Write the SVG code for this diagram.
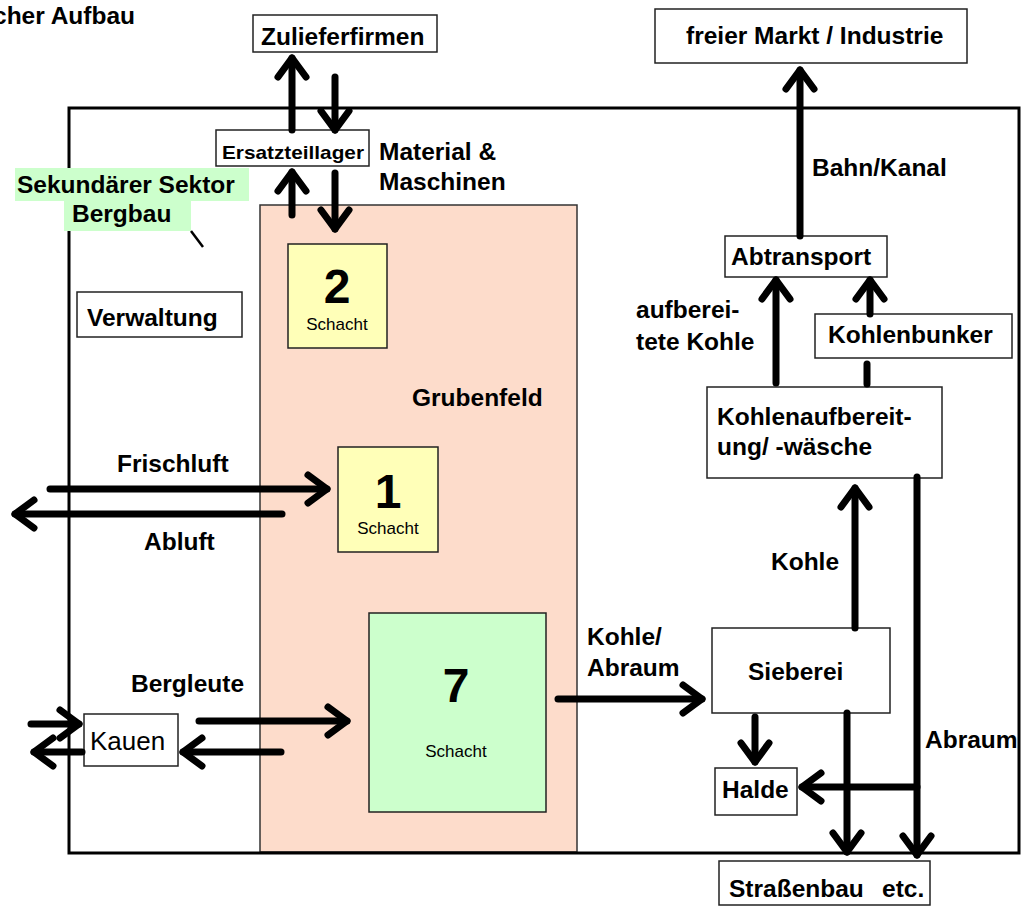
<svg xmlns="http://www.w3.org/2000/svg" width="1032" height="907" viewBox="0 0 1032 907">
<style>
text{font-family:"Liberation Sans",Arial,sans-serif;font-weight:bold;font-size:24.5px;fill:#000}
.reg{font-weight:normal}
.sm{font-weight:normal;font-size:17px}
.num{font-size:48px;text-anchor:middle}
.box{fill:#fff;stroke:#222;stroke-width:1.5}
.arr{stroke:#000;stroke-width:7;stroke-linecap:round;fill:none;marker-end:url(#ah)}
.ln{stroke:#000;stroke-width:7;stroke-linecap:round;fill:none}
</style>
<defs>
<marker id="ah" markerUnits="userSpaceOnUse" markerWidth="50" markerHeight="50" viewBox="-25 -25 50 50" refX="0" refY="0" orient="auto">
<path d="M-19,-14 L0,0 L-19,14" fill="none" stroke="#000" stroke-width="7" stroke-linecap="round" stroke-linejoin="round"/>
</marker>
</defs>
<rect width="1032" height="907" fill="#fff"/>
<text x="-7" y="24">cher Aufbau</text>

<g id="grubenfeld">
<rect x="260" y="205" width="317" height="647" fill="#fddccb" stroke="#333" stroke-width="1.5"/>
<text x="412" y="406">Grubenfeld</text>
</g>
<g id="bergbau-rahmen">
<rect x="69" y="108" width="950" height="745" fill="none" stroke="#000" stroke-width="3"/>
</g>

<g id="zulieferfirmen"><rect class="box" x="253" y="15" width="184" height="37"/><text x="261" y="45">Zulieferfirmen</text></g>
<g id="ersatzteillager"><rect class="box" x="216" y="130" width="153" height="36"/><text x="222" y="159" style="font-size:19px" textLength="142" lengthAdjust="spacingAndGlyphs">Ersatzteillager</text></g>
<g id="material-label"><text x="379" y="160">Material &amp;</text><text x="379" y="190">Maschinen</text></g>
<g id="sektor-label">
<rect x="15" y="168" width="234" height="33" fill="#ccffcc"/>
<rect x="64" y="201" width="127" height="30" fill="#ccffcc"/>
<text x="17" y="193">Sekundärer Sektor</text>
<text x="72" y="222">Bergbau</text>
<line x1="191" y1="231" x2="203" y2="247" stroke="#000" stroke-width="2.5"/>
</g>
<g id="verwaltung"><rect class="box" x="77" y="292" width="165" height="45"/><text x="87" y="326">Verwaltung</text></g>
<g id="schacht2"><rect x="288" y="244" width="99" height="104" fill="#ffffb8" stroke="#222" stroke-width="1.5"/><text class="num" x="337" y="303">2</text><text class="sm" x="337" y="330" text-anchor="middle">Schacht</text></g>
<g id="schacht1"><rect x="338" y="447" width="100" height="105" fill="#ffffb8" stroke="#222" stroke-width="1.5"/><text class="num" x="388" y="508">1</text><text class="sm" x="388" y="534" text-anchor="middle">Schacht</text></g>
<g id="schacht7"><rect x="369" y="613" width="177" height="199" fill="#ccffcc" stroke="#222" stroke-width="1.5"/><text class="num" x="456" y="702">7</text><text class="sm" x="456" y="757" text-anchor="middle">Schacht</text></g>
<g id="luft-labels"><text x="117" y="472">Frischluft</text><text x="144" y="550">Abluft</text></g>
<g id="bergleute-label"><text x="131" y="692">Bergleute</text></g>
<g id="kauen"><rect class="box" x="84" y="714" width="94" height="52"/><text class="reg" x="90" y="750" style="font-size:26px">Kauen</text></g>
<g id="kohle-abraum-label"><text x="587" y="645">Kohle/</text><text x="587" y="676">Abraum</text></g>
<g id="sieberei"><rect class="box" x="712" y="628" width="178" height="85"/><text x="748" y="680">Sieberei</text></g>
<g id="halde"><rect class="box" x="715" y="768" width="82" height="47"/><text x="722" y="798">Halde</text></g>
<g id="abraum-label"><text x="925" y="748">Abraum</text></g>
<g id="strassenbau"><rect class="box" x="719" y="861" width="211" height="44"/><text x="729" y="897">Straßenbau<tspan x="882">etc.</tspan></text></g>
<g id="kohle-label"><text x="771" y="570">Kohle</text></g>
<g id="kohlenaufbereitung"><rect class="box" x="707" y="387" width="235" height="91"/><text x="717" y="425">Kohlenaufbereit-</text><text x="717" y="455">ung/ -wäsche</text></g>
<g id="aufbereitete-label"><text x="636" y="318">aufberei-</text><text x="636" y="350">tete Kohle</text></g>
<g id="kohlenbunker"><rect class="box" x="815" y="314" width="197" height="44"/><text x="828" y="343">Kohlenbunker</text></g>
<g id="abtransport"><rect class="box" x="725" y="236" width="162" height="41"/><text x="731" y="265">Abtransport</text></g>
<g id="bahn-label"><text x="812" y="176">Bahn/Kanal</text></g>
<g id="markt"><rect class="box" x="655" y="9" width="312" height="54"/><text x="686" y="44">freier Markt / Industrie</text></g>

<g id="connectors">
<line class="arr" x1="292" y1="130" x2="292" y2="58"/>
<line class="arr" x1="335" y1="77" x2="335" y2="130"/>
<line class="arr" x1="292" y1="215" x2="292" y2="172"/>
<line class="arr" x1="335" y1="173" x2="335" y2="229"/>
<line class="arr" x1="50" y1="489" x2="327" y2="489"/>
<line class="arr" x1="282" y1="514" x2="15" y2="514"/>
<line class="arr" x1="31" y1="724" x2="79" y2="724"/>
<line class="arr" x1="82" y1="752" x2="34" y2="752"/>
<line class="arr" x1="199" y1="721" x2="347" y2="721"/>
<line class="arr" x1="281" y1="752" x2="183" y2="752"/>
<line class="arr" x1="558" y1="699" x2="702" y2="699"/>
<line class="arr" x1="755" y1="717" x2="755" y2="762"/>
<line class="arr" x1="847" y1="713" x2="847" y2="852"/>
<line class="arr" x1="917" y1="477" x2="917" y2="855"/>
<line class="arr" x1="917" y1="787" x2="802" y2="787"/>
<line class="arr" x1="855" y1="628" x2="855" y2="488"/>
<line class="arr" x1="776" y1="383" x2="776" y2="280"/>
<line class="arr" x1="870" y1="314" x2="870" y2="280"/>
<line class="ln" x1="867" y1="364" x2="867" y2="384"/>
<line class="arr" x1="800" y1="236" x2="800" y2="70"/>
</g>
</svg>
